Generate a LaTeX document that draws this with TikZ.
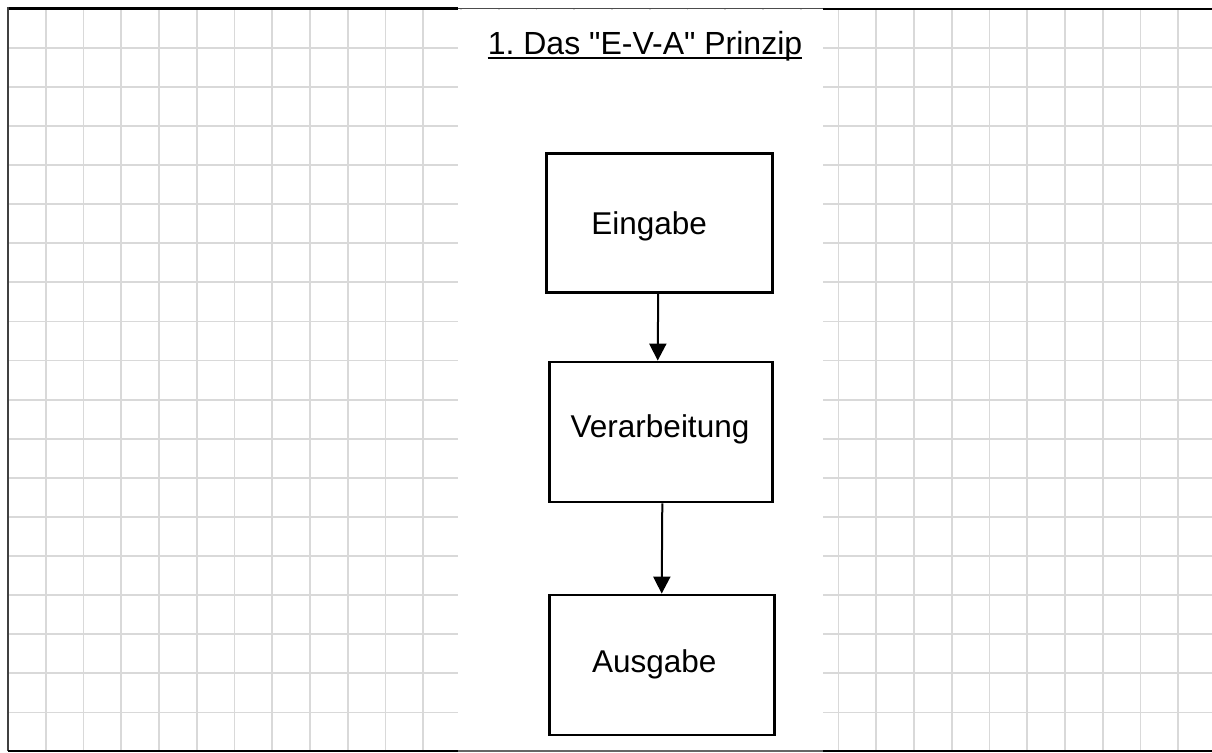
\documentclass[tikz,border=0pt]{standalone}
\usepackage{fontspec}
\setmainfont{Liberation Sans}[Ligatures=TeXOff]
\usetikzlibrary{arrows.meta}
\frenchspacing

\tikzset{
  gridline/.style={draw=black!15, line width=1.8pt},
  frameline/.style={draw=black, line width=2.8pt},
  thinframe/.style={draw=black!70, line width=1.5pt},
  stepbox/.style={draw=black, line width=2.8pt, rectangle, inner sep=0pt},
  lbl/.style={inner sep=0pt, font=\fontsize{31.5}{36}\selectfont},
  flow/.style={draw=black, line width=2pt, -{Triangle[length=17pt,width=17pt]}},
}

\begin{document}
\begin{tikzpicture}[x=1pt, y=-1pt]
  \useasboundingbox (0,0) rectangle (1212,752);
  \fill[white] (0,0) rectangle (1212,752);

  % squared paper
  \foreach \k in {0,...,30} {
    \draw[gridline] ({45.7+37.75*\k},9) -- ({45.7+37.75*\k},751);
  }
  \foreach \k in {0,...,17} {
    \draw[gridline] (8,{47.7+39.1*\k}) -- (1212,{47.7+39.1*\k});
  }
  % blank column for the diagram
  \fill[white] (458,10) rectangle (822.7,749.5);

  % page frame
  \draw[frameline] (8,8.8) -- (458,8.8);
  \draw[thinframe] (458,8.3) -- (822.7,8.3);
  \draw[frameline] (822.7,9) -- (1212,9);
  \draw[draw=black!75, line width=2pt] (8,7.5) -- (8,751);
  \draw[frameline] (8,751) -- (458,751);
  \draw[draw=black!60, line width=2pt] (458,751) -- (822.7,751);
  \draw[frameline] (822.7,751) -- (1212,751);

  % heading
  \node[inner sep=0pt, anchor=base, font=\fontsize{32}{38}\selectfont] (title) at (645,54.3) {1. Das "E-V-A" Prinzip};
  \draw[draw=black, line width=1.6pt] ([yshift=-4pt]title.base west) -- ([yshift=-4pt]title.base east);

  % the three stages
  \node[stepbox, minimum width=226pt, minimum height=139.4pt] (e) at (659.2,223) {};
  \node[stepbox, minimum width=223pt, minimum height=140pt] (v) at (660.7,432) {};
  \node[stepbox, minimum width=225pt, minimum height=140pt] (a) at (661.7,665) {};

  \node[lbl, anchor=base] (et) at (649.2,234.3) {Eingabe};
  \node[lbl, anchor=base] (vt) at (660,437.5) {Verarbeitung};
  \node[lbl, anchor=base] (at) at (654.2,672.7) {Ausgabe};

  % flow between stages
  \draw[flow] ([xshift=-1pt]e.south) -- ([xshift=-3pt]v.north);
  \draw[flow] ([xshift=1.6pt]v.south) -- (a.north);
\end{tikzpicture}
\end{document}
